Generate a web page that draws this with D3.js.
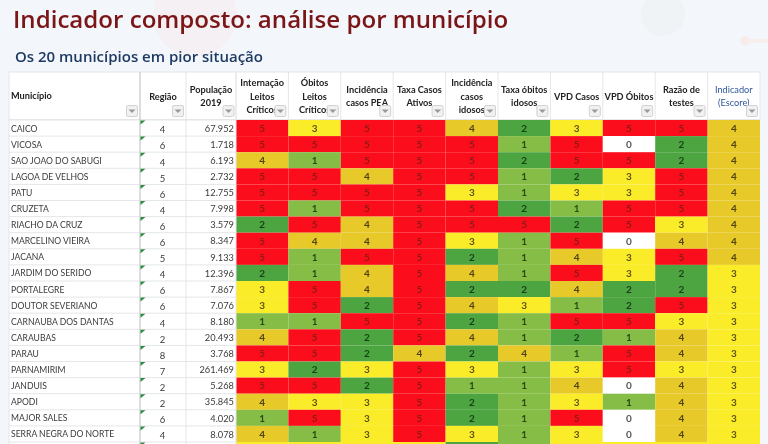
<!DOCTYPE html>
<html>
<head>
<meta charset="utf-8">
<script src="https://cdn.jsdelivr.net/npm/d3@7"></script>
<style>
  html, body { margin: 0; padding: 0; background: #f3f7fb; overflow: hidden; }
  svg { display: block; }
</style>
</head>
<body>
<svg width="768" height="444"></svg>
<script>
var municipios = ["CAICO", "VICOSA", "SAO JOAO DO SABUGI", "LAGOA DE VELHOS", "PATU", "CRUZETA", "RIACHO DA CRUZ", "MARCELINO VIEIRA", "JACANA", "JARDIM DO SERIDO", "PORTALEGRE", "DOUTOR SEVERIANO", "CARNAUBA DOS DANTAS", "CARAUBAS", "PARAU", "PARNAMIRIM", "JANDUIS", "APODI", "MAJOR SALES", "SERRA NEGRA DO NORTE"];
var regioes = [4, 6, 4, 5, 6, 4, 6, 6, 5, 4, 6, 6, 4, 2, 8, 7, 2, 2, 6, 4];
var populacao = ["67.952", "1.718", "6.193", "2.732", "12.755", "7.998", "3.579", "8.347", "9.133", "12.396", "7.867", "7.076", "8.180", "20.493", "3.768", "261.469", "5.268", "35.845", "4.020", "8.078"];

var colunas = [
  ["Internação", "Leitos", "Críticos"],
  ["Óbitos", "Leitos", "Críticos"],
  ["Incidência", "casos PEA"],
  ["Taxa Casos", "Ativos"],
  ["Incidência", "casos", "idosos"],
  ["Taxa óbitos", "idosos"],
  ["VPD Casos"],
  ["VPD Óbitos"],
  ["Razão de", "testes"],
  ["Indicador", "(Escore)"]
];

var escores = [
  [5, 3, 5, 5, 4, 2, 3, 5, 5, 4],
  [5, 5, 5, 5, 5, 1, 5, 0, 2, 4],
  [4, 1, 5, 5, 5, 2, 5, 5, 2, 4],
  [5, 5, 4, 5, 5, 1, 2, 3, 5, 4],
  [5, 5, 5, 5, 3, 1, 3, 3, 5, 4],
  [5, 1, 5, 5, 5, 2, 1, 5, 5, 4],
  [2, 5, 4, 5, 5, 5, 2, 5, 3, 4],
  [5, 4, 4, 5, 3, 1, 5, 0, 4, 4],
  [5, 1, 5, 5, 2, 1, 4, 3, 5, 4],
  [2, 1, 4, 5, 4, 1, 5, 3, 2, 3],
  [3, 5, 4, 5, 2, 2, 4, 2, 2, 3],
  [3, 5, 2, 5, 4, 3, 1, 2, 5, 3],
  [1, 1, 5, 5, 2, 1, 5, 5, 3, 3],
  [4, 5, 2, 5, 4, 1, 2, 1, 4, 3],
  [5, 5, 2, 4, 2, 4, 1, 5, 4, 3],
  [3, 2, 3, 5, 3, 1, 3, 5, 3, 3],
  [5, 5, 2, 5, 1, 1, 4, 0, 4, 3],
  [4, 3, 3, 5, 2, 1, 3, 1, 4, 3],
  [1, 5, 3, 5, 2, 1, 5, 0, 4, 3],
  [4, 1, 3, 5, 3, 1, 3, 0, 4, 3]
];
// the row cut off by the bottom of the picture, only colours are visible
var linhaCortada = [3, 3, 3, 3, 2, 1, 3, 3, 3, 3];

var svg = d3.select("svg"),
    width = +svg.attr("width"),
    height = +svg.attr("height");

var fonte = "Lato, 'Open Sans', sans-serif";

var cor = d3.scaleOrdinal()
    .domain([0, 1, 2, 3, 4, 5])
    .range(["#ffffff", "#86bd47", "#4ea542", "#fbec2b", "#e8c92b", "#fb0f1b"]);

var corTexto = d3.scaleOrdinal()
    .domain([0, 1, 2, 3, 4, 5])
    .range(["#555555", "#2b4a16", "#163f14", "#5c5210", "#4f4210", "#8e1a16"]);

var x = d3.scaleBand()
    .domain(d3.range(colunas.length))
    .range([236, 760]);

var y = d3.scaleBand()
    .domain(d3.range(municipios.length + 1))
    .range([120, 458.1]);

var defs = svg.append("defs");
defs.append("filter").attr("id", "foto")
    .attr("x", 0).attr("y", 0).attr("width", "100%").attr("height", "100%")
    .append("feGaussianBlur").attr("stdDeviation", 0.4);

var root = svg.append("g").attr("filter", "url(#foto)");

// background and faint virus drawings
root.append("rect").attr("width", width).attr("height", height).attr("fill", "#f3f7fb");
root.append("circle").attr("cx", 195).attr("cy", 15).attr("r", 42).attr("fill", "#f5f0f3");
root.append("circle").attr("cx", 663).attr("cy", 14).attr("r", 22).attr("fill", "#f0f3f6");
root.append("circle").attr("cx", 745).attr("cy", 41).attr("r", 5).attr("fill", "#f7ecea");
root.append("rect").attr("x", 748).attr("y", 39).attr("width", 20).attr("height", 4).attr("fill", "#f7eeee");

root.append("text")
    .attr("x", 13).attr("y", 28)
    .attr("font-family", "'Open Sans', sans-serif")
    .attr("font-size", 24.1)
    .attr("font-weight", 600)
    .attr("fill", "#7a1216")
    .text("Indicador composto: análise por município");

root.append("text")
    .attr("x", 15).attr("y", 62)
    .attr("font-family", "'Open Sans', sans-serif")
    .attr("font-size", 15)
    .attr("font-weight", 600)
    .attr("fill", "#1f3a63")
    .text("Os 20 municípios em pior situação");

// table body
root.append("rect").attr("x", 9).attr("y", 72).attr("width", 751).attr("height", height - 72).attr("fill", "#ffffff");

var linhas = root.selectAll(".linha")
    .data(escores.concat([linhaCortada]))
    .enter()
    .append("g")
      .attr("class", "linha")
      .attr("transform", function(d, i){ return "translate(0," + y(i) + ")" });

linhas.selectAll("rect")
    .data(function(d){ return d })
    .enter()
    .append("rect")
      .attr("x", function(d, j){ return x(j) })
      .attr("width", x.bandwidth())
      .attr("height", y.bandwidth())
      .attr("fill", function(d){ return cor(d) });

linhas.filter(function(d, i){ return i < municipios.length })
    .selectAll("text")
    .data(function(d){ return d })
    .enter()
    .append("text")
      .attr("x", function(d, j){ return x(j) + x.bandwidth() / 2 })
      .attr("y", y.bandwidth() / 2 + 3.8)
      .attr("text-anchor", "middle")
      .attr("font-family", fonte)
      .attr("font-size", 10)
      .attr("font-weight", 700)
      .attr("fill", function(d){ return corTexto(d) })
      .text(function(d){ return d });

// grid lines on the text columns
var grade = root.append("g").attr("stroke", "#e4e6e9").attr("stroke-width", 1);
y.domain().forEach(function(i){
  grade.append("line").attr("x1", 9).attr("x2", 236).attr("y1", y(i)).attr("y2", y(i));
});
[72, 119.5].forEach(function(v){
  grade.append("line").attr("x1", 9).attr("x2", 760).attr("y1", v).attr("y2", v);
});
[9, 186, 236].forEach(function(v){
  grade.append("line").attr("x1", v).attr("x2", v).attr("y1", 72).attr("y2", height);
});
x.domain().forEach(function(j){
  grade.append("line").attr("x1", x(j)).attr("x2", x(j)).attr("y1", 72).attr("y2", 119.5);
});
grade.append("line").attr("x1", 760).attr("x2", 760).attr("y1", 72).attr("y2", 119.5);
root.append("line").attr("x1", 140).attr("x2", 140).attr("y1", 72).attr("y2", height)
    .attr("stroke", "#c4c8cc").attr("stroke-width", 1.2);

// green corner marks of the region column
root.selectAll(".canto")
    .data(d3.range(municipios.length + 1))
    .enter()
    .append("path")
      .attr("class", "canto")
      .attr("fill", "#2f8a3a")
      .attr("d", function(i){ return "M140.5," + (y(i) + 0.5) + "h5l-5,4z" });

// text columns
var texto = root.append("g").attr("font-family", fonte).attr("fill", "#3a3a3a");

texto.selectAll(".nome")
    .data(municipios)
    .enter()
    .append("text")
      .attr("class", "nome")
      .attr("x", 11)
      .attr("y", function(d, i){ return y(i) + y.bandwidth() / 2 + 3.5 })
      .attr("font-size", 8.6)
      .text(function(d){ return d });

texto.selectAll(".regiao")
    .data(regioes)
    .enter()
    .append("text")
      .attr("class", "regiao")
      .attr("x", 162.5)
      .attr("y", function(d, i){ return y(i) + y.bandwidth() / 2 + 5.3 })
      .attr("text-anchor", "middle")
      .attr("font-size", 9.5)
      .text(function(d){ return d });

texto.selectAll(".pop")
    .data(populacao)
    .enter()
    .append("text")
      .attr("class", "pop")
      .attr("x", 234)
      .attr("y", function(d, i){ return y(i) + y.bandwidth() / 2 + 3.7 })
      .attr("text-anchor", "end")
      .attr("font-size", 9.3)
      .text(function(d){ return d });

// header
function cabecalho(linhasTexto, cx, cor, peso) {
  var alturaLinha = 13.2,
      inicio = 96.5 - (linhasTexto.length - 1) * alturaLinha / 2;
  linhasTexto.forEach(function(t, k){
    root.append("text")
        .attr("x", cx)
        .attr("y", inicio + k * alturaLinha + 3)
        .attr("text-anchor", "middle")
        .attr("font-family", fonte)
        .attr("font-size", 9.2)
        .attr("font-weight", peso)
        .attr("fill", cor)
        .text(t);
  });
}

function filtro(direita) {
  var b = root.append("g").attr("transform", "translate(" + (direita - 12) + ",105)");
  b.append("rect").attr("x", 0.5).attr("y", 0.5).attr("width", 11).attr("height", 11).attr("rx", 1.5)
      .attr("fill", "#f1f1f1").attr("stroke", "#d2d2d2");
  b.append("path").attr("d", "M2.5,4.5h7l-3.5,3.5z").attr("fill", "#9a9a9a");
}

root.append("text")
    .attr("x", 11).attr("y", 99)
    .attr("font-family", fonte)
    .attr("font-size", 9.2)
    .attr("font-weight", 700)
    .attr("fill", "#222222")
    .text("Município");
filtro(138);

cabecalho(["Região"], 163, "#222222", 700);
filtro(184);
cabecalho(["População", "2019"], 211, "#222222", 700);
filtro(234.5);

colunas.forEach(function(c, j){
  var ultima = j === colunas.length - 1;
  cabecalho(c, x(j) + x.bandwidth() / 2, ultima ? "#2f5597" : "#222222", ultima ? 400 : 700);
  filtro(x(j) + x.bandwidth() - 2);
});
</script>
</body>
</html>
